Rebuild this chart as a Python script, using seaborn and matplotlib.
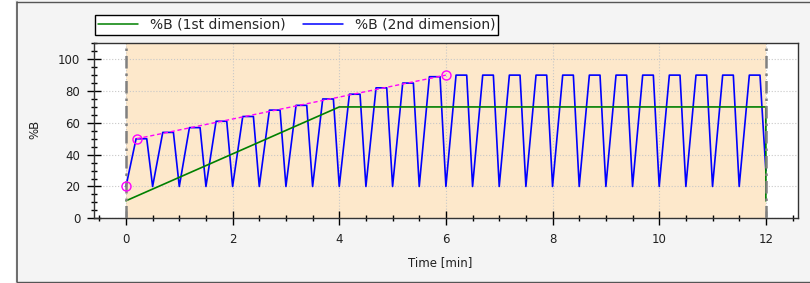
"""
Gradient program chart: 1st and 2nd dimension %B over time.
"""

import matplotlib
matplotlib.use("Agg")
import matplotlib.pyplot as plt
from matplotlib.lines import Line2D
from matplotlib.patches import Rectangle
from matplotlib.ticker import MultipleLocator
import pandas as pd
import seaborn as sns

# 1st dimension gradient (time in min, %B)
first_time = [0, 4, 12, 12]
first_b = [11, 70, 70, 11]

# 2nd dimension: one modulation cycle every 0.5 min
cycle_length = 0.5
cycle_offsets = [0.0, 0.19, 0.39, 0.5]
cycle_base = 20
cycle_peaks = [50, 54, 57, 61, 64, 68, 71, 75, 78, 82, 85, 89,
               90, 90, 90, 90, 90, 90, 90, 90, 90, 90, 90, 90]
last_end_b = 30

# marked gradient points on the 2nd dimension
marker_time = [0, 0.2, 6]
marker_b = [20, 50, 90]
trend_time = [0.2, 6]
trend_b = [50, 90]


def build_second_dimension() -> pd.DataFrame:
    times = []
    values = []
    for i, peak in enumerate(cycle_peaks):
        start = i * cycle_length
        cycle_vals = [cycle_base, peak, peak, cycle_base]
        for k, (off, val) in enumerate(zip(cycle_offsets, cycle_vals)):
            if i > 0 and k == 0:
                continue
            times.append(start + off)
            values.append(val)
    values[-1] = last_end_b
    return pd.DataFrame({"Time": times, "B": values})


def main() -> None:
    sns.set_theme(style="white")
    plt.rcParams["font.family"] = ["DejaVu Sans"]

    fig = plt.figure(figsize=(8.1, 2.83), dpi=100, facecolor="#f4f4f4")

    # window frame
    fig.add_artist(Rectangle((0, 0), 15 / 810, 1, transform=fig.transFigure,
                             facecolor="white", edgecolor="none", zorder=0))
    fig.add_artist(Line2D([17 / 810, 17 / 810], [1.5 / 283, 1 - 2 / 283],
                          transform=fig.transFigure, color="#555555", lw=1.2))
    fig.add_artist(Line2D([17 / 810, 1], [1 - 2 / 283, 1 - 2 / 283],
                          transform=fig.transFigure, color="#555555", lw=1.0))
    fig.add_artist(Line2D([17 / 810, 1], [1.5 / 283, 1.5 / 283],
                          transform=fig.transFigure, color="#555555", lw=1.0))

    ax = fig.add_axes([0.116, 0.2286, 0.869, 0.6184])
    ax.set_facecolor("white")

    first_df = pd.DataFrame({"Time": first_time, "B": first_b})
    second_df = build_second_dimension()
    marker_df = pd.DataFrame({"Time": marker_time, "B": marker_b})
    trend_df = pd.DataFrame({"Time": trend_time, "B": trend_b})

    ax.axvspan(0, 12, color="#fde8cb", zorder=0.2, lw=0)

    sns.lineplot(data=second_df, x="Time", y="B", ax=ax, color="#0000ff",
                 lw=1.2, estimator=None, sort=False, zorder=3)
    sns.lineplot(data=first_df, x="Time", y="B", ax=ax, color="#008000",
                 lw=1.2, estimator=None, sort=False, zorder=4)
    sns.lineplot(data=trend_df, x="Time", y="B", ax=ax, color="#ff00ff",
                 lw=1.0, estimator=None, sort=False, zorder=5,
                 linestyle=(0, (3, 2)))
    ax.plot(marker_df["Time"], marker_df["B"], linestyle="none", marker="o",
            markersize=6.5, markerfacecolor="none", markeredgecolor="#ff00ff",
            markeredgewidth=1.0, zorder=7)

    for t in (0, 12):
        ax.axvline(t, color="#808080", lw=1.8, linestyle=(0, (5, 2, 1, 2)),
                   zorder=6)

    ax.set_xlim(-0.6, 12.6)
    ax.set_ylim(0, 110)
    ax.xaxis.set_major_locator(MultipleLocator(2))
    ax.xaxis.set_minor_locator(MultipleLocator(0.5))
    ax.yaxis.set_major_locator(MultipleLocator(20))
    ax.yaxis.set_minor_locator(MultipleLocator(5))
    ax.set_yticks([0, 20, 40, 60, 80, 100])

    ax.set_axisbelow(True)
    ax.grid(True, which="major", color="#c8c8c8", lw=0.8, linestyle=":")

    ax.tick_params(which="major", direction="inout", length=9.5, width=1,
                   color="black", labelsize=8.5, labelcolor="#202020")
    ax.tick_params(which="minor", direction="inout", length=4.3, width=1,
                   color="black")
    ax.tick_params(axis="x", which="major", pad=6)
    ax.tick_params(axis="y", which="major", pad=5)
    ax.tick_params(axis="both", which="both", bottom=True, left=True,
                   top=False, right=False)

    for spine in ax.spines.values():
        spine.set_color("#333333")
        spine.set_linewidth(1.0)

    ax.set_xlabel("Time [min]", fontsize=8.5, color="#202020")
    ax.set_ylabel("%B", fontsize=8.5, color="#202020")
    ax.xaxis.set_label_coords(0.492, -0.215)
    ax.yaxis.set_label_coords(-0.075, 0.51)

    handles = [Line2D([], [], color="#008000", lw=1.1),
               Line2D([], [], color="#0000ff", lw=1.1)]
    labels = ["%B (1st dimension)", "%B (2nd dimension)"]
    legend = fig.legend(handles, labels, loc="upper left",
                        bbox_to_anchor=(95 / 810, 1 - 15 / 283), ncol=2,
                        frameon=True, fancybox=False, shadow=False,
                        edgecolor="black", framealpha=1, fontsize=10,
                        borderpad=0.2, handlelength=2.9, handletextpad=0.85,
                        columnspacing=1.25, borderaxespad=0)
    legend.get_frame().set_linewidth(1.0)

    fig.savefig("out.png", dpi=100, facecolor=fig.get_facecolor())


if __name__ == "__main__":
    main()
